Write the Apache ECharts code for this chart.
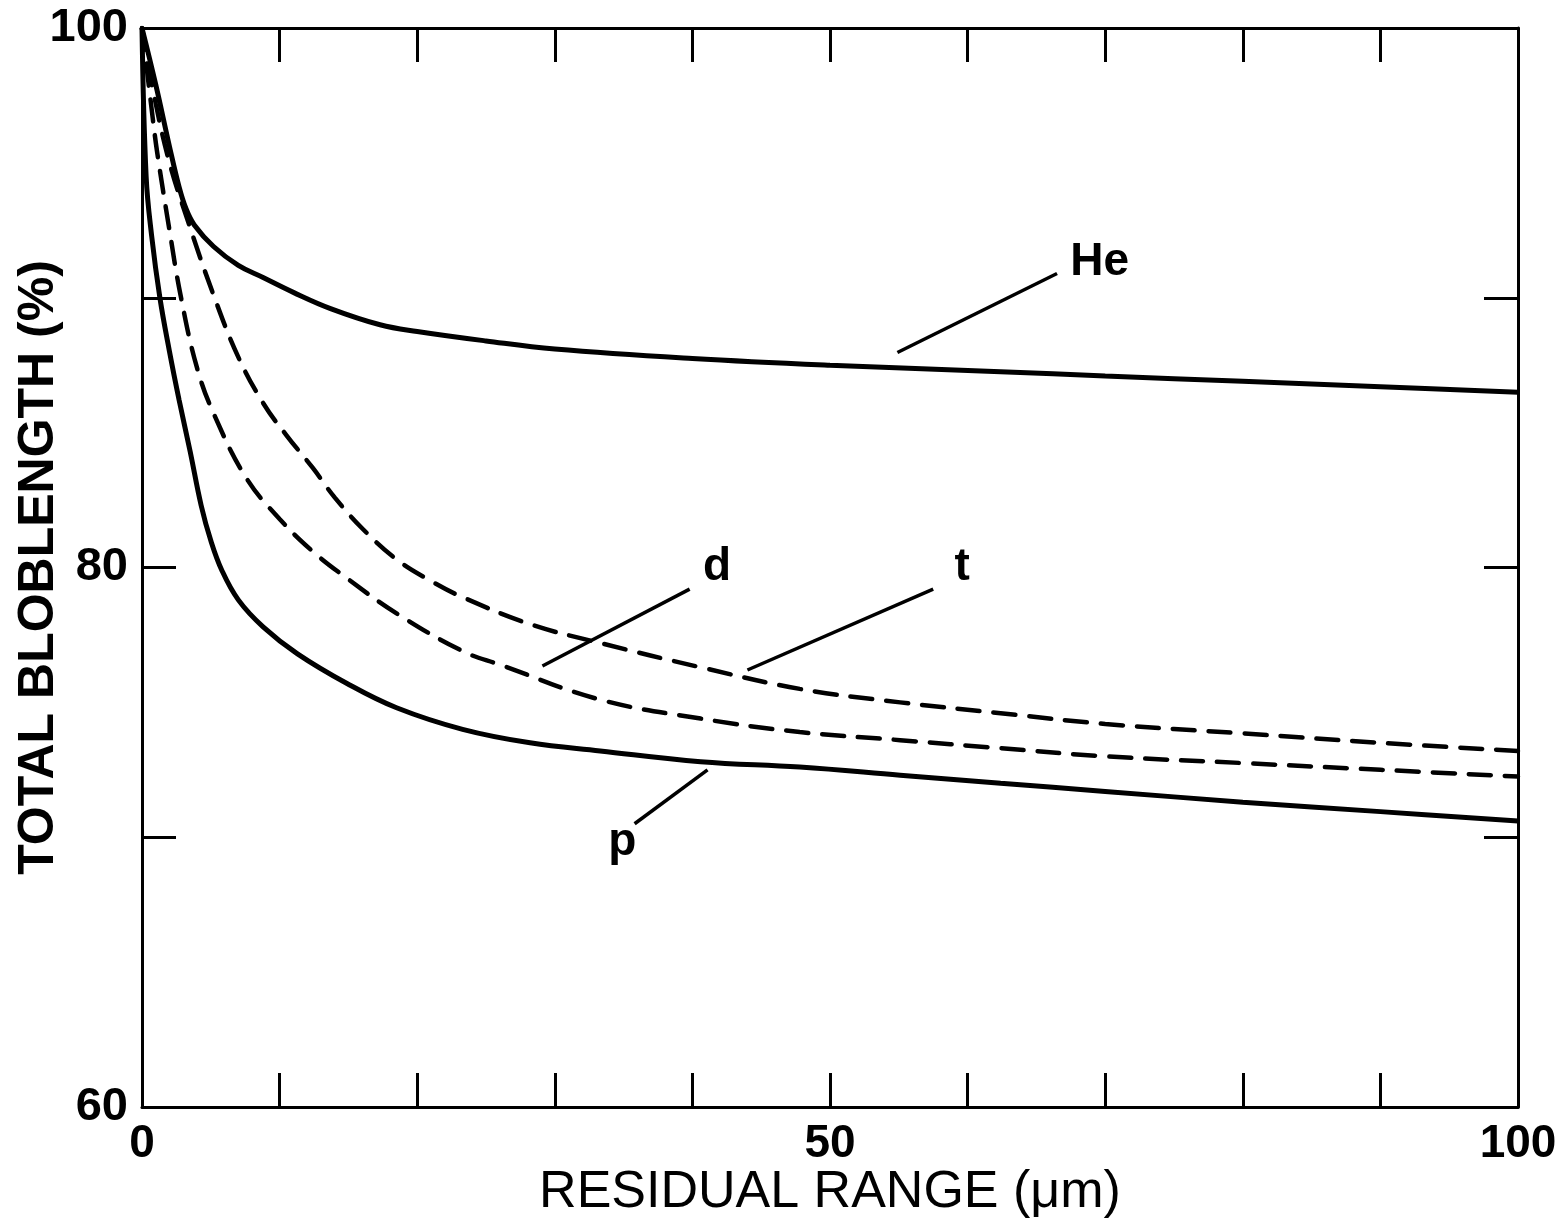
<!DOCTYPE html>
<html>
<head>
<meta charset="utf-8">
<title>Total bloblength vs residual range</title>
<script src="https://cdn.jsdelivr.net/npm/echarts@6/dist/echarts.min.js"></script>
<style>
  html, body { margin: 0; padding: 0; background: #fff; }
  #chart { width: 1565px; height: 1224px; }
</style>
</head>
<body>
<div id="chart"></div>
<script>
// Residual range (µm) and total bloblength (%) for each particle type
const heX = [0, 1, 2, 2.7, 3.2, 3.8, 5.2, 7, 8.8, 11, 13.7, 17.3, 20, 25, 30, 40, 50, 62.4, 70, 80, 90, 100];
const heY = [100, 97.9, 95.6, 94.1, 93.3, 92.7, 91.9, 91.2, 90.75, 90.2, 89.6, 89.0, 88.75, 88.4, 88.1, 87.75, 87.5, 87.26, 87.1, 86.9, 86.7, 86.5];

const tX = [0, 1, 2, 3.3, 5.2, 7, 8.8, 10.5, 12.4, 14, 16.1, 18.5, 21, 23.3, 28.2, 33.3, 40.6, 47.8, 55.1, 62.4, 70, 80, 90, 100];
const tY = [100, 97.2, 95, 92.9, 90.1, 87.8, 86.1, 84.9, 83.7, 82.6, 81.4, 80.3, 79.5, 78.9, 77.9, 77.2, 76.3, 75.5, 75.0, 74.6, 74.2, 73.85, 73.5, 73.2];

const dX = [0, 0.7, 1.1, 2, 2.8, 4, 5.3, 7.6, 10, 12.4, 14.9, 18.5, 23.3, 26, 33.3, 40.6, 47.8, 55.1, 62.4, 70, 80, 90, 100];
const dY = [100, 97, 95.4, 92.5, 90.1, 87.4, 85.6, 83.3, 81.8, 80.6, 79.6, 78.3, 76.9, 76.4, 75.1, 74.4, 73.9, 73.6, 73.3, 73.0, 72.75, 72.5, 72.25];

const pX = [0, 0.3, 0.7, 1.3, 2, 2.7, 3.5, 4.3, 5, 5.8, 7, 8.8, 11.3, 14.9, 18.5, 23.3, 28.2, 33.3, 40.6, 47.8, 55.1, 62.4, 70, 80, 90, 100];
const pY = [100, 94.5, 92.3, 90, 88, 86.2, 84.3, 82.3, 81.0, 79.9, 78.8, 77.8, 76.8, 75.7, 74.8, 74.0, 73.5, 73.2, 72.8, 72.6, 72.3, 72.0, 71.7, 71.3, 70.95, 70.6];

// Curve labels and their leader lines (data units)
const curveNames = ['He', 'd', 't', 'p'];
const labelAt = [[69.6, 91.3], [41.8, 80.0], [59.6, 80.0], [34.9, 69.8]];
const leaderFrom = [[54.9, 87.97], [29.1, 76.35], [44.0, 76.2], [35.8, 70.5]];
const leaderTo = [[66.5, 90.9], [39.8, 79.2], [57.5, 79.2], [41.1, 72.5]];

// Axis settings
const xMin = 0, xMax = 100, xStep = 10;
const yMin = 60, yMax = 100, yStep = 10;
const xLabelled = [0, 50, 100];
const yLabelled = [60, 80, 100];

const zip = (xs, ys) => xs.map((x, i) => [x, ys[i]]);

const INK = '#000';
const FONT = '"Liberation Sans", Arial, sans-serif';

const frameAxis = {
  axisLine: { show: true, onZero: false, lineStyle: { color: INK, width: 3 } },
  axisTick: { show: true, inside: true, length: 34, lineStyle: { color: INK, width: 3 } },
  splitLine: { show: false }
};

const chart = echarts.init(document.getElementById('chart'), null, { renderer: 'canvas' });

const curve = (name, data, dashed) => ({
  name,
  type: 'line',
  data,
  showSymbol: false,
  smooth: 0.4,
  animation: false,
  z: 3,
  lineStyle: dashed
    ? { color: INK, width: 4.5, type: [22, 14], cap: 'round' }
    : { color: INK, width: 5 }
});

chart.setOption({
  backgroundColor: '#fff',
  animation: false,
  grid: { left: 142, right: 47, top: 28, bottom: 117, containLabel: false, outerBoundsMode: 'none' },
  xAxis: [
    Object.assign({
      type: 'value', position: 'bottom', min: xMin, max: xMax, interval: xStep,
      name: 'RESIDUAL RANGE (\u03bcm)', nameLocation: 'middle', nameGap: 60, nameMoveOverlap: false,
      nameTextStyle: { color: INK, fontFamily: FONT, fontSize: 52, fontWeight: 'normal' },
      axisLabel: {
        color: INK, fontFamily: FONT, fontSize: 46, fontWeight: 'bold', margin: 14,
        formatter: v => (xLabelled.includes(v) ? String(v) : '')
      }
    }, frameAxis),
    Object.assign({
      type: 'value', position: 'top', min: xMin, max: xMax, interval: xStep,
      axisLabel: { show: false }
    }, frameAxis)
  ],
  yAxis: [
    Object.assign({
      type: 'value', position: 'left', min: yMin, max: yMax, interval: yStep,
      name: 'TOTAL BLOBLENGTH (%)', nameLocation: 'middle', nameGap: 78, nameRotate: 90, nameMoveOverlap: false,
      nameTextStyle: { color: INK, fontFamily: FONT, fontSize: 50, fontWeight: 'bold' },
      axisLabel: {
        color: INK, fontFamily: FONT, fontSize: 47, fontWeight: 'bold', margin: 14,
        formatter: v => (yLabelled.includes(v) ? String(v) : '')
      }
    }, frameAxis),
    Object.assign({
      type: 'value', position: 'right', min: yMin, max: yMax, interval: yStep,
      axisLabel: { show: false }
    }, frameAxis)
  ],
  series: [
    curve('He', zip(heX, heY), false),
    curve('t', zip(tX, tY), true),
    curve('d', zip(dX, dY), true),
    curve('p', zip(pX, pY), false),
    {
      name: 'leaders',
      type: 'lines',
      coordinateSystem: 'cartesian2d',
      silent: true,
      animation: false,
      lineStyle: { color: INK, width: 3.5, opacity: 1, curveness: 0 },
      data: leaderFrom.map((a, i) => ({ coords: [a, leaderTo[i]] }))
    },
    {
      name: 'curve labels',
      type: 'scatter',
      symbolSize: 0,
      silent: true,
      animation: false,
      itemStyle: { opacity: 1 },
      data: curveNames.map((n, i) => ({ name: n, value: labelAt[i] })),
      label: {
        show: true,
        position: 'inside',
        formatter: p => p.name,
        color: INK,
        opacity: 1,
        fontFamily: FONT,
        fontSize: 46,
        fontWeight: 'bold'
      }
    }
  ]
});
</script>
</body>
</html>
